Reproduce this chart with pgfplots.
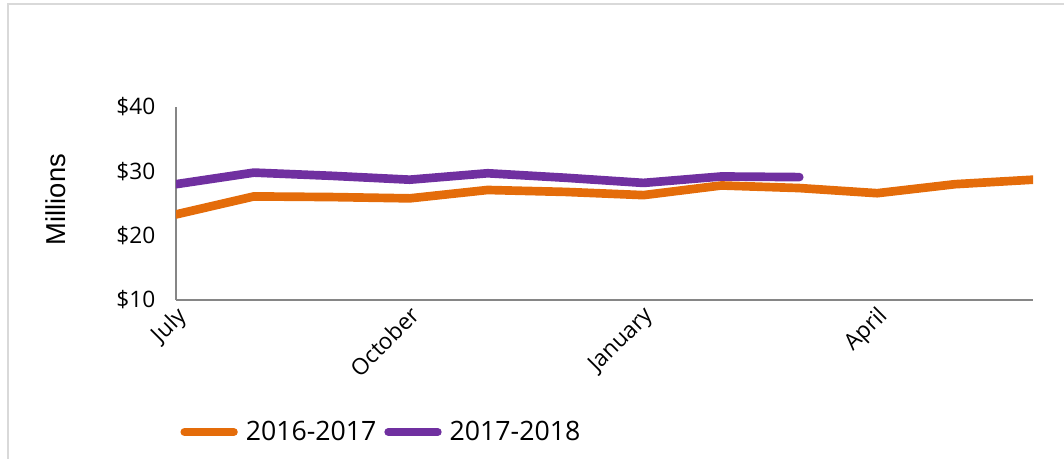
\documentclass[border=0pt]{standalone}
\usepackage{fontspec}
\setmainfont{Open Sans}
\newfontfamily\arialfont{Liberation Sans}
\usepackage{pgfplots}
\pgfplotsset{compat=1.18}
\definecolor{orangeA}{RGB}{228,108,10}
\definecolor{purpleA}{RGB}{112,48,160}
\definecolor{axgray}{RGB}{134,134,134}
\definecolor{framegray}{RGB}{217,217,217}
\begin{document}
\begin{tikzpicture}[x=0.75pt,y=0.75pt]
\path[use as bounding box] (0,0) rectangle (1064,459);
\draw[framegray, line width=1.5pt] (8,0) -- (8,455) -- (1064,455);
\begin{axis}[
  at={(176pt*0.75,159pt*0.75)}, anchor=south west,
  scale only axis,
  width=857*0.75pt, height=193*0.75pt,
  xmin=0, xmax=11, ymin=10, ymax=40,
  axis x line=bottom, axis y line=left,
  axis line style={axgray, line width=1pt, -},
  xtick={0,3,6,9},
  xticklabels={July,October,January,April},
  ytick={10,20,30,40},
  yticklabels={\$10,\$20,\$30,\$40},
  major tick length=0pt,
  tick label style={font=\fontsize{17}{20}\selectfont, black},
  xticklabel style={rotate=45, anchor=north east, inner sep=1pt, xshift=-2pt, yshift=-1pt},
  yticklabel shift=12pt,
  ylabel={\arialfont\fontsize{20.5}{24}\selectfont Millions},
  ylabel style={at={(axis description cs:-0.140,0.52)}, anchor=center, rotate=0},
  legend columns=2,
  legend style={at={(axis description cs:0.24,-0.684)}, anchor=center, draw=none,
    font=\fontsize{20}{24}\selectfont, column sep=4pt, inner sep=0pt},
  legend cell align=left,
  legend image code/.code={\draw[line width=6pt, line cap=round, #1] (0pt,0pt) -- (37pt,0pt);},
]
\addplot[orangeA, line width=6.5pt, line join=round, line cap=round] coordinates {
(0,23.3) (1,26.1) (2,26.0) (3,25.8) (4,27.1) (5,26.8) (6,26.3) (7,27.8) (8,27.4) (9,26.6) (10,28.0) (11,28.7)};
\addlegendentry{2016-2017}
\addplot[purpleA, line width=6.5pt, line join=round, line cap=round] coordinates {
(0,28.0) (1,29.8) (2,29.3) (3,28.7) (4,29.7) (5,29.0) (6,28.2) (7,29.2) (8,29.1)};
\addlegendentry{2017-2018}
\end{axis}
\end{tikzpicture}
\end{document}
